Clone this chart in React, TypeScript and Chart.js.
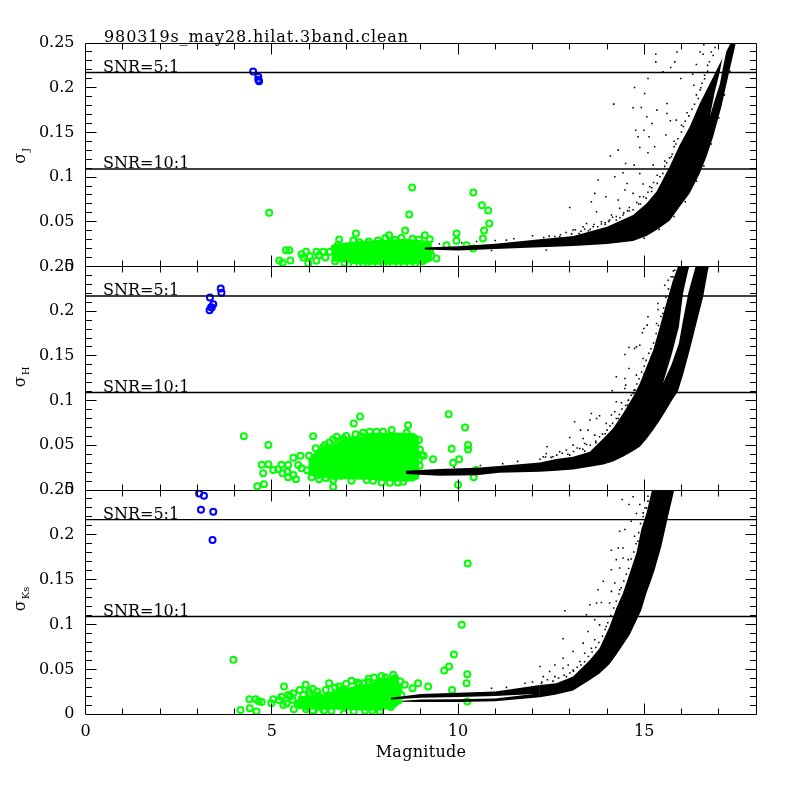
import React, { useEffect, useRef } from "react";
import { Chart, registerables } from "chart.js";

Chart.register(...registerables);

type P = [number, number];

const titleText = "980319s_may28.hilat.3band.clean";
const xLabel = "Magnitude";
const snrLevels = [0.217, 0.109];
const snrNames = ["SNR=5:1", "SNR=10:1"];
const panelTops = [43, 266.5, 490];
const panelBottoms = [266.5, 490, 714.3];

// ---- J band
const jMag = [9.1, 10, 11, 12.2, 13.1, 14, 14.7, 15.06, 15.33, 15.68, 15.95, 16.22, 16.49, 16.67, 16.85, 17.07, 17.29, 17.4, 17.5];
const jUpper = [0.0212, 0.0227, 0.0255, 0.0304, 0.0341, 0.0445, 0.0576, 0.0706, 0.084, 0.1116, 0.1358, 0.1563, 0.1823, 0.1972, 0.2121, 0.2308, 0.2475, 0.258, 0.27];
const jLower = [0.019, 0.0178, 0.0195, 0.0214, 0.0229, 0.0251, 0.0285, 0.034, 0.0408, 0.0512, 0.0669, 0.0818, 0.1041, 0.1227, 0.1451, 0.1786, 0.2196, 0.239, 0.258];
const jGapMag = [16.76, 16.89, 17.03, 17.11, 17.2, 17.26];
const jGapUpper = [0.1674, 0.1945, 0.218, 0.236, 0.2545, 0.268];
const jGapLower = [0.1674, 0.186, 0.204, 0.222, 0.24, 0.252];
// ---- H band
const hMag = [8.6, 9.5, 10.5, 11.1, 12.2, 12.64, 13.09, 13.54, 13.9, 14.16, 14.43, 14.7, 14.88, 15.06, 15.24, 15.42, 15.59, 15.77, 15.9, 16.04, 16.22, 16.4, 16.58, 16.71, 16.85];
const hUpper = [0.0215, 0.0235, 0.025, 0.0268, 0.0309, 0.0346, 0.0372, 0.0428, 0.0577, 0.0689, 0.0856, 0.1043, 0.1192, 0.1378, 0.1564, 0.1825, 0.2086, 0.2346, 0.2495, 0.27, 0.29, 0.3, 0.31, 0.32, 0.33];
const hLower = [0.018, 0.0158, 0.0165, 0.0194, 0.0204, 0.0215, 0.023, 0.026, 0.0285, 0.032, 0.0372, 0.0435, 0.0484, 0.057, 0.067, 0.078, 0.0894, 0.102, 0.11, 0.1285, 0.1564, 0.1862, 0.216, 0.2458, 0.27];
const hGapMag = [15.5, 15.73, 15.93, 16.04, 16.18, 16.35, 16.45];
const hGapUpper = [0.1192, 0.1508, 0.1825, 0.2197, 0.2458, 0.27, 0.28];
const hGapLower = [0.1192, 0.14, 0.164, 0.19, 0.2197, 0.2458, 0.26];
// ---- Ks band
const kMag = [12.2, 12.64, 13.09, 13.54, 13.8, 14.07, 14.25, 14.43, 14.61, 14.79, 14.92, 15.06, 15.19, 15.28, 15.46, 15.64, 15.8, 15.9];
const kUpper = [0.0327, 0.0346, 0.042, 0.0606, 0.0737, 0.0979, 0.1184, 0.1351, 0.1575, 0.1798, 0.2059, 0.2245, 0.2469, 0.26, 0.29, 0.31, 0.33, 0.34];
const kLower = [0.0189, 0.022, 0.0264, 0.0383, 0.0455, 0.056, 0.0665, 0.0775, 0.0886, 0.1045, 0.116, 0.1351, 0.15, 0.1612, 0.1873, 0.2208, 0.2488, 0.27];
const kStripAMag = [8.2, 9, 10, 11, 12.2];
const kStripAUpper = [0.0185, 0.0225, 0.024, 0.0255, 0.0327];
const kStripALower = [0.0165, 0.0185, 0.0193, 0.0205, 0.023];
const kStripBMag = [8.5, 9, 10, 11, 12.2];
const kStripBUpper = [0.0152, 0.0165, 0.0168, 0.0175, 0.0235];
const kStripBLower = [0.014, 0.0137, 0.0137, 0.0145, 0.0189];

// ---- bright-star clouds: solid core outlines
const jCoreMag = [6.6, 6.85, 7.2, 7.6, 8.0, 8.6, 9.1, 9.3];
const jCoreUpper = [0.024, 0.026, 0.028, 0.029, 0.03, 0.031, 0.029, 0.026];
const jCoreLower = [0.006, 0.005, 0.003, 0.002, 0.002, 0.002, 0.003, 0.006];
const hCoreMag = [5.98, 6.2, 6.56, 7.0, 7.46, 7.63, 8.35, 8.8, 8.96];
const hCoreUpper = [0.035, 0.044, 0.05, 0.058, 0.06, 0.064, 0.064, 0.064, 0.06];
const hCoreLower = [0.018, 0.016, 0.012, 0.012, 0.0115, 0.0115, 0.0095, 0.0095, 0.013];
const kCoreMag = [5.7, 6.29, 6.74, 7.19, 7.63, 7.9, 8.35, 8.48];
const kCoreUpper = [0.02, 0.0216, 0.0272, 0.0309, 0.0346, 0.0402, 0.042, 0.03];
const kCoreLower = [0.006, 0.005, 0.005, 0.0044, 0.004, 0.004, 0.008, 0.015];

// ---- individual bright stars
const jGreen: P[] = [[4.93,0.06],[5.38,0.0183],[5.47,0.0183],[5.2,0.0067],[5.29,0.0041],[5.5,0.0067],[8.77,0.0883],[8.69,0.0581],[8.58,0.0402],[7.26,0.0369],[6.81,0.0302],[8.15,0.035],[9.11,0.035],[9.24,0.0305],[9.42,0.009],[9.96,0.0369],[9.96,0.0287],[10.41,0.0827],[10.64,0.0685],[10.81,0.0626],[10.84,0.048],[10.7,0.0402],[10.67,0.0313],[10.41,0.02],[9.69,0.0238],[10.23,0.0238],[5.8,0.0138],[5.92,0.0164],[5.85,0.01],[6.02,0.0115],[5.98,0.0034],[6.2,0.0164],[6.27,0.0127],[6.2,0.0063],[6.38,0.0164],[6.44,0.01],[6.56,0.0164],[6.69,0.02],[6.78,0.024],[6.87,0.015],[6.7,0.006],[6.95,0.004],[7.19,0.029],[7.35,0.027],[7.6,0.028],[7.85,0.029],[8.05,0.032],[8.3,0.03],[8.48,0.032],[8.78,0.031],[8.95,0.03],[9.15,0.024],[9.25,0.018],[9.28,0.012],[7.2,0.001],[7.45,0.003],[7.7,0.001],[8.0,0.002],[8.25,0.001],[8.55,0.002],[8.85,0.003],[9.05,0.006]];
const hGreen: P[] = [[4.25,0.06],[4.91,0.0503],[7.37,0.0823],[7.2,0.0745],[6.11,0.06],[8.66,0.0723],[9.75,0.0846],[10.19,0.07],[10.27,0.0503],[10.27,0.0454],[9.83,0.0462],[10.03,0.0343],[9.87,0.0305],[9.33,0.0343],[9.02,0.0391],[9.08,0.0384],[10.0,0.006],[10.42,0.0142],[10.48,0.0224],[4.61,0.0041],[4.79,0.0063],[4.77,0.0186],[4.73,0.0283],[4.91,0.0287],[5.04,0.0224],[5.26,0.0283],[5.17,0.0231],[5.29,0.0186],[5.44,0.028],[5.42,0.0205],[5.44,0.0142],[5.65,0.0119],[5.58,0.0168],[5.58,0.0361],[5.77,0.0384],[5.71,0.0279],[5.8,0.0242],[6.0,0.0384],[6.07,0.0142],[6.27,0.0119],[6.25,0.0168],[6.11,0.0298],[6.18,0.0466],[6.43,0.0503],[6.38,0.0477],[6.65,0.0566],[6.74,0.0596],[6.92,0.0577],[6.65,0.0037],[6.65,0.0112],[7.19,0.0559],[7.14,0.0104],[7.63,0.0652],[7.81,0.0652],[7.99,0.0652],[8.22,0.0671],[8.62,0.0641],[7.55,0.0112],[7.72,0.0104],[8.17,0.0082],[8.53,0.0093],[8.76,0.0142],[8.9,0.02],[8.97,0.027],[8.95,0.034],[8.98,0.045],[8.95,0.056],[7.4,0.06],[7.05,0.05],[6.3,0.024],[5.95,0.022],[6.45,0.019],[6.85,0.016],[7.95,0.0085],[8.38,0.0085],[6.1,0.02],[6.2,0.0335],[6.35,0.042],[6.5,0.046],[6.55,0.053],[6.85,0.055],[7.0,0.0605],[7.25,0.0625],[7.45,0.064],[6.45,0.0135],[6.7,0.015]];
const kGreen: P[] = [[3.97,0.0607],[9.89,0.0667],[9.76,0.0533],[9.63,0.0488],[10.25,0.0447],[10.23,0.0346],[9.84,0.0272],[9.2,0.0309],[8.93,0.0346],[8.78,0.029],[8.57,0.0328],[10.25,0.0142],[10.1,0.0998],[10.26,0.168],[4.16,0.0048],[4.41,0.0067],[4.59,0.003],[4.4,0.0168],[4.57,0.0168],[4.73,0.0138],[4.65,0.0145],[5.04,0.0168],[4.99,0.0123],[5.33,0.0309],[5.31,0.0104],[5.26,0.0197],[5.58,0.0235],[5.44,0.0216],[5.59,0.0056],[5.56,0.016],[5.91,0.0328],[5.92,0.0056],[6.27,0.0019],[6.22,0.0253],[6.54,0.0346],[6.81,0.0309],[7.14,0.0373],[6.94,0.001],[7.5,0.004],[7.9,0.003],[7.95,0.0428],[8.26,0.044],[8.31,0.0402],[8.13,0.01],[8.48,0.0216],[5.4,0.012],[5.2,0.016],[5.7,0.012],[5.5,0.02],[5.75,0.027],[6.02,0.022],[6.4,0.004],[6.6,0.004],[7.2,0.003],[7.7,0.004],[8.2,0.008],[8.4,0.015],[7.35,0.034],[7.6,0.036],[7.75,0.041],[6.45,0.027],[6.1,0.0285],[5.75,0.0105],[5.95,0.008],[6.1,0.0045],[5.85,0.0215],[6.0,0.025],[6.25,0.021],[6.7,0.03],[6.9,0.0275],[7.0,0.034],[7.3,0.0355],[7.45,0.0345],[7.6,0.0395],[8.05,0.041],[8.45,0.0365],[8.4,0.028]];

const jBlue: P[] = [[4.5,0.2181],[4.64,0.2122],[4.64,0.2089],[4.66,0.2072]];
const hBlue: P[] = [[3.34,0.2153],[3.43,0.2079],[3.39,0.2042],[3.33,0.2012],[3.63,0.2254],[3.65,0.2205],[3.37,0.2045]];
const kBlue: P[] = [[3.05,0.2462],[3.18,0.2437],[3.1,0.228],[3.43,0.2257],[3.41,0.1944]];

// ---- sparse faint stars
const jDots: P[] = [[15.31,0.2375],[15.88,0.24],[15.31,0.2289],[16.58,0.2375],[15.82,0.2289],[15.71,0.2226],[15.5,0.2177],[15.1,0.2103],[15.98,0.2103],[14.74,0.2002],[15.01,0.1935],[16.33,0.2028],[14.18,0.1816],[14.7,0.1775],[14.92,0.1779],[15.61,0.1823],[15.34,0.1749],[15.07,0.1674],[15.61,0.1712],[15.7,0.163],[15.86,0.1637],[15.21,0.16],[14.77,0.1525],[14.99,0.1525],[14.83,0.1451],[15.13,0.1451],[15.58,0.147],[15.28,0.1339],[14.88,0.1332],[14.3,0.1302],[14.09,0.1235],[15.1,0.1272],[15.73,0.1227],[14.5,0.1153],[14.73,0.1134],[15.24,0.1134],[13.76,0.0967],[14.21,0.1004],[14.43,0.1049],[14.54,0.0929],[14.88,0.1041],[14.97,0.0922],[13.67,0.0818],[13.97,0.078],[13.58,0.0725],[14.3,0.0743],[14.7,0.0818],[14.48,0.0855],[13.0,0.0661],[13.72,0.0613],[14.12,0.0575],[14.34,0.065],[14.88,0.078],[15.15,0.0892],[13.45,0.0482],[13.85,0.0501],[14.07,0.052],[14.43,0.0575],[13.09,0.0408],[12.73,0.0333],[13.63,0.0445],[13.36,0.0445],[12.37,0.0184],[16.4,0.226],[16.5,0.24],[16.6,0.248],[16.3,0.215],[16.52,0.2],[16.62,0.21],[16.7,0.225],[16.8,0.24],[16.45,0.188],[16.15,0.172],[16.0,0.158],[15.8,0.14],[15.55,0.118],[15.35,0.102],[15.2,0.088],[14.85,0.07],[14.6,0.062],[14.25,0.052],[13.95,0.047],[13.5,0.04],[13.25,0.037]];
const jEdgeDots: P[] = [[12.3,0.0325],[12.45,0.034],[12.6,0.0335],[12.75,0.0355],[12.9,0.038],[13.05,0.0365],[13.15,0.041],[13.3,0.0395],[13.4,0.042],[13.55,0.0415],[13.65,0.047],[13.75,0.0445],[13.85,0.0475],[13.95,0.049],[14.05,0.0505],[14.15,0.055],[14.25,0.056],[14.35,0.0545],[14.45,0.06],[14.55,0.0625],[14.6,0.066],[14.7,0.0635],[14.8,0.0715],[14.9,0.07],[14.98,0.078],[15.05,0.0765],[15.1,0.083],[15.2,0.084],[15.25,0.094],[15.35,0.093],[15.42,0.1005],[15.5,0.104],[15.55,0.112],[15.6,0.116],[15.68,0.1215],[15.75,0.1255],[15.8,0.134],[15.85,0.137],[15.9,0.143],[16.0,0.1505],[16.05,0.1565],[16.1,0.1625],[16.2,0.1685],[16.28,0.176],[16.35,0.1815],[16.4,0.192],[16.5,0.1975],[16.55,0.205],[16.62,0.214],[16.7,0.2185],[16.75,0.229],[16.85,0.236],[16.9,0.245],[15.0,0.0315],[15.4,0.0415],[15.8,0.056],[16.1,0.0725],[16.4,0.0955],[16.6,0.1125],[16.8,0.137],[17.0,0.166],[17.15,0.192],[17.3,0.2185],[9.5,0.0255],[10.1,0.0265],[10.5,0.028],[11,0.029],[11.3,0.0295],[10.9,0.018],[11.5,0.031],[12,0.0345]];
const hDots: P[] = [[15.55,0.2291],[15.64,0.2346],[15.37,0.2086],[15.37,0.2019],[15.1,0.1937],[15.33,0.1862],[15.08,0.1844],[14.99,0.1806],[14.95,0.1758],[14.79,0.1601],[14.59,0.1594],[14.74,0.1583],[14.88,0.162],[14.48,0.1516],[14.97,0.1471],[14.59,0.136],[14.25,0.1266],[14.48,0.1248],[14.79,0.1285],[14.14,0.111],[14.5,0.1173],[14.48,0.1136],[14.25,0.0987],[14.39,0.0976],[14.57,0.1005],[14.7,0.108],[13.58,0.0856],[13.8,0.083],[13.13,0.0763],[13.54,0.0782],[13.72,0.08],[14.12,0.0838],[14.21,0.0875],[13.98,0.0745],[13.29,0.067],[13.49,0.067],[13.0,0.0588],[13.36,0.0577],[13.67,0.0614],[13.09,0.0502],[13.4,0.0521],[12.39,0.0484],[12.37,0.0409],[12.73,0.0428],[12.91,0.0447],[12.29,0.0372],[12.55,0.0372],[13.27,0.0465],[15.82,0.2458],[15.77,0.2384],[15.73,0.2235],[15.64,0.2123],[15.5,0.1974],[15.33,0.1676],[15.19,0.149],[15.0,0.13],[14.75,0.112],[14.55,0.095],[14.3,0.08],[13.95,0.063],[13.7,0.053],[13.4,0.0435],[13.0,0.039]];
const hEdgeDots: P[] = [[12.2,0.0345],[12.35,0.037],[12.5,0.0365],[12.65,0.039],[12.8,0.041],[12.95,0.04],[13.1,0.043],[13.2,0.047],[13.35,0.0455],[13.45,0.051],[13.55,0.05],[13.7,0.0545],[13.8,0.0595],[13.88,0.0625],[14.0,0.067],[14.08,0.0715],[14.15,0.0745],[14.25,0.08],[14.33,0.0845],[14.4,0.0905],[14.5,0.0945],[14.58,0.1005],[14.65,0.106],[14.72,0.1115],[14.8,0.1185],[14.86,0.1245],[14.93,0.132],[15.0,0.1385],[15.05,0.145],[15.12,0.153],[15.18,0.158],[15.25,0.1645],[15.32,0.175],[15.38,0.184],[15.45,0.194],[15.52,0.2035],[15.58,0.2155],[15.65,0.225],[15.72,0.2385],[15.78,0.245],[9.9,0.0255],[10.6,0.0275],[11.2,0.0295],[11.6,0.032]];
const kDots: P[] = [[14.7,0.2424],[14.41,0.2394],[14.59,0.2339],[14.88,0.2339],[14.79,0.2238],[14.97,0.2245],[14.65,0.2152],[14.34,0.2041],[14.48,0.2059],[14.74,0.1985],[14.83,0.1929],[14.12,0.1828],[14.3,0.1854],[14.43,0.1854],[14.25,0.1724],[14.43,0.1743],[14.57,0.1724],[14.12,0.1612],[14.34,0.163],[13.9,0.1482],[14.21,0.1463],[13.76,0.1389],[14.12,0.137],[14.34,0.1389],[13.54,0.1221],[13.72,0.124],[13.85,0.1247],[14.07,0.124],[12.87,0.1154],[13.45,0.111],[13.67,0.1053],[13.8,0.0997],[13.49,0.0923],[13.98,0.0979],[12.82,0.0841],[13.67,0.083],[13.36,0.0793],[13.09,0.07],[13.4,0.0681],[13.58,0.0737],[12.82,0.0625],[12.6,0.055],[13.27,0.0588],[12.96,0.055],[12.2,0.0532],[12.46,0.0476],[12.82,0.0513],[13.09,0.0494],[12.29,0.042],[12.6,0.042],[12.91,0.042],[13.27,0.0476],[12.24,0.0345],[15.1,0.2376],[15.06,0.2301]];
const kEdgeDots: P[] = [[12.25,0.036],[12.4,0.0385],[12.55,0.037],[12.7,0.0405],[12.85,0.0435],[13.0,0.046],[13.1,0.048],[13.2,0.0525],[13.3,0.055],[13.4,0.0585],[13.5,0.0645],[13.6,0.0695],[13.7,0.0745],[13.78,0.08],[13.88,0.087],[13.95,0.0945],[14.02,0.102],[14.1,0.11],[14.18,0.1185],[14.25,0.126],[14.32,0.134],[14.38,0.141],[14.45,0.1485],[14.52,0.156],[14.58,0.1625],[14.65,0.173],[14.72,0.181],[14.78,0.19],[14.85,0.2025],[14.9,0.2125],[14.97,0.2205],[15.02,0.23],[15.1,0.243],[11.8,0.0345],[12.0,0.036],[11.3,0.03],[10.9,0.029]];

const yLabelParts = [["σ", "J"], ["σ", "H"], ["σ", "Ks"]];
const FONT = '"DejaVu Serif"';

const toXY = (pts: P[]) => pts.map(([x, y]) => ({ x, y }));
const zipXY = (xs: number[], ys: number[]) => xs.map((x, i) => ({ x, y: ys[i] }));

function band(xs: number[], up: number[], low: number[], color: string, order: number) {
  return [
    { data: zipXY(xs, up), showLine: true, pointRadius: 0, borderWidth: 0, borderColor: color, backgroundColor: color, fill: false, order },
    { data: zipXY(xs, low), showLine: true, pointRadius: 0, borderWidth: 0, borderColor: color, backgroundColor: color, fill: "-1", order },
  ];
}

function markers(pts: P[], color: string, order: number) {
  return { data: toXY(pts), showLine: false, pointRadius: 3, pointStyle: "circle", borderColor: color, backgroundColor: "rgba(0,0,0,0)", pointBorderWidth: 2, pointBorderColor: color, pointBackgroundColor: "rgba(0,0,0,0)", order };
}

function dots(pts: P[]) {
  return { data: toXY(pts), showLine: false, pointRadius: 1.1, pointStyle: "rect", pointBorderWidth: 0, pointBackgroundColor: "#000", order: 2 };
}

function snrLines() {
  return snrLevels.map((v) => ({
    data: [{ x: 0, y: v }, { x: 18, y: v }],
    showLine: true, pointRadius: 0, borderWidth: 1.4, borderColor: "#000", fill: false, order: 0,
  }));
}

const panelDatasets = [
  [
    ...snrLines(),
    markers(jBlue, "#0000ff", 1), dots(jDots), dots(jEdgeDots),
    ...band(jGapMag, jGapUpper, jGapLower, "#ffffff", 3),
    ...band(jMag, jUpper, jLower, "#000000", 4),
    ...band(jCoreMag, jCoreUpper, jCoreLower, "#00ff00", 4.5),
    markers(jGreen, "#00ff00", 5),
  ],
  [
    ...snrLines(),
    markers(hBlue, "#0000ff", 1), dots(hDots), dots(hEdgeDots),
    ...band(hGapMag, hGapUpper, hGapLower, "#ffffff", 3),
    ...band(hMag, hUpper, hLower, "#000000", 4),
    ...band(hCoreMag, hCoreUpper, hCoreLower, "#00ff00", 4.5),
    markers(hGreen, "#00ff00", 5),
  ],
  [
    ...snrLines(),
    markers(kBlue, "#0000ff", 1), dots(kDots), dots(kEdgeDots),
    ...band(kMag, kUpper, kLower, "#000000", 4),
    ...band(kStripAMag, kStripAUpper, kStripALower, "#000000", 4),
    ...band(kStripBMag, kStripBUpper, kStripBLower, "#000000", 4),
    ...band(kCoreMag, kCoreUpper, kCoreLower, "#00ff00", 4.5),
    markers(kGreen, "#00ff00", 5),
  ],
];

const decorPlugin = {
  id: "decor",
  afterDraw(chart: any, _a: any, opts: any) {
    const { ctx, chartArea: a, scales } = chart;
    const idx: number = opts.panel;
    ctx.save();
    ctx.strokeStyle = "#000";
    ctx.fillStyle = "#000";
    ctx.lineWidth = 1;
    ctx.beginPath();
    const L = Math.floor(a.left) + 0.5, R = Math.floor(a.right) + 0.5, T = Math.floor(a.top) + 0.5, B = Math.floor(a.bottom) + 0.5;
    ctx.rect(L, T, R - L, B - T);
    for (const t of scales.x.ticks) {
      if (t.value <= 0 || t.value >= 18) continue;
      const px = Math.floor(scales.x.getPixelForValue(t.value)) + 0.5;
      const len = t.value % 5 === 0 ? 11 : 6;
      ctx.moveTo(px, T); ctx.lineTo(px, T + len);
      ctx.moveTo(px, B); ctx.lineTo(px, B - len);
    }
    for (const t of scales.y.ticks) {
      if (t.value <= 0 || t.value >= 0.2499) continue;
      const py = Math.floor(scales.y.getPixelForValue(t.value)) + 0.5;
      const major = Math.round(t.value * 100) % 5 === 0;
      const len = major ? 11 : 6.5;
      ctx.moveTo(L, py); ctx.lineTo(L + len, py);
      ctx.moveTo(R, py); ctx.lineTo(R - len, py);
    }
    ctx.stroke();

    ctx.font = `16px ${FONT}`;
    ctx.textAlign = "left";
    ctx.textBaseline = "alphabetic";
    snrLevels.forEach((v, i) => {
      ctx.fillText(snrNames[i], 103, scales.y.getPixelForValue(v) - 1);
    });
    if (idx === 0) {
      ctx.letterSpacing = "0.9px";
      ctx.fillText(titleText, 104, 42);
      ctx.letterSpacing = "0px";
    }
    if (idx === 2) {
      ctx.textAlign = "center";
      ctx.letterSpacing = "0.3px";
      ctx.fillText(xLabel, 421, 757);
      ctx.letterSpacing = "0px";
    }

    const [sym, sub] = yLabelParts[idx];
    const mid = (a.top + a.bottom) / 2;
    ctx.translate(25, mid + 9);
    ctx.rotate(-Math.PI / 2);
    ctx.textAlign = "left";
    ctx.font = `16px ${FONT}`;
    ctx.fillText(sym, 0, 0);
    const w = ctx.measureText(sym).width;
    ctx.font = `10px ${FONT}`;
    ctx.fillText(sub, w + 1, 4);
    ctx.restore();
  },
};

const numberLabel = (v: number) => {
  const h = Math.round(v * 100);
  if (h % 5 !== 0) return "";
  return h === 0 ? "0" : String(h / 100);
};

export default function App() {
  const r0 = useRef<HTMLCanvasElement>(null);
  const r1 = useRef<HTMLCanvasElement>(null);
  const r2 = useRef<HTMLCanvasElement>(null);

  useEffect(() => {
    const refs = [r0, r1, r2];
    const charts = refs.map((ref, i) =>
      new Chart(ref.current as HTMLCanvasElement, {
        type: "scatter",
        data: { datasets: panelDatasets[i] as any },
        plugins: [decorPlugin as any],
        options: {
          animation: false,
          responsive: false,
          devicePixelRatio: 1,
          events: [],
          layout: { padding: { left: 0, right: 44, top: panelTops[i], bottom: i === 2 ? 800 - panelBottoms[i] - 30 : 800 - panelBottoms[i] } },
          plugins: { legend: { display: false }, tooltip: { enabled: false }, title: { display: false }, decor: { panel: i } } as any,
          elements: { line: { tension: 0 } },
          scales: {
            x: {
              type: "linear", min: 0, max: 18,
              grid: { display: false }, border: { display: false },
              afterFit: (s: any) => { s.height = i === 2 ? 30 : 0; },
              ticks: {
                display: i === 2, stepSize: 1, autoSkip: false, maxRotation: 0, padding: 0,
                color: "#000", font: { family: FONT, size: 16 },
                callback: (v: any) => (Number(v) % 5 === 0 ? String(v) : ""),
              },
            },
            y: {
              type: "linear", min: 0, max: 0.25,
              grid: { display: false }, border: { display: false },
              afterFit: (s: any) => { s.width = 85.5; },
              ticks: {
                stepSize: 0.01, autoSkip: false, padding: 3,
                color: "#000", font: { family: FONT, size: 16 },
                callback: (v: any) => numberLabel(Number(v)),
              },
            },
          },
        },
      } as any)
    );
    return () => charts.forEach((c) => c.destroy());
  }, []);

  const style: React.CSSProperties = { position: "absolute", left: 0, top: 0 };
  return (
    <div style={{ position: "fixed", left: 0, top: 0, width: 800, height: 800, background: "#fff" }}>
      <canvas ref={r0} width={800} height={800} style={style} />
      <canvas ref={r1} width={800} height={800} style={style} />
      <canvas ref={r2} width={800} height={800} style={style} />
    </div>
  );
}
